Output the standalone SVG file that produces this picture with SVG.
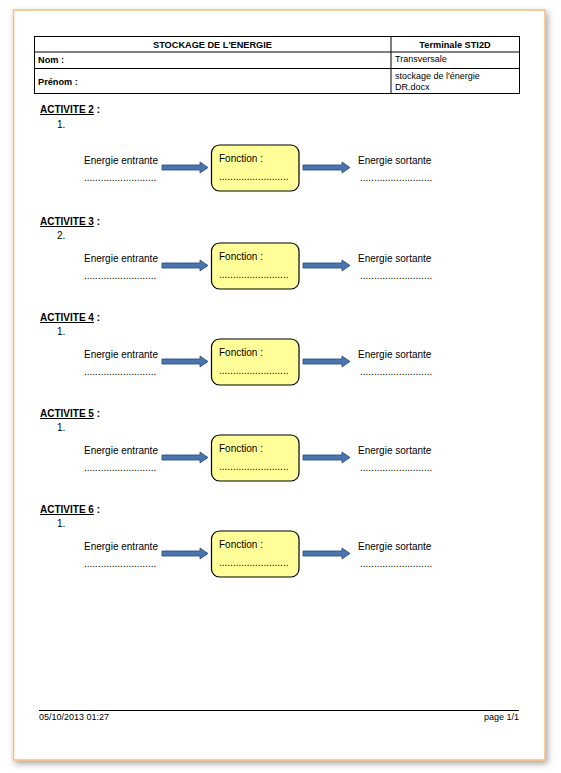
<svg xmlns="http://www.w3.org/2000/svg" width="561" height="773" viewBox="0 0 561 773">
<defs>
<filter id="shadow" x="-5%" y="-5%" width="112%" height="112%">
<feDropShadow dx="2" dy="3" stdDeviation="3" flood-color="#000" flood-opacity="0.35"/>
</filter>
<style>
text{font-family:"Liberation Sans",Arial,sans-serif;fill:#000}
.t{font-size:9px}
.tb{font-size:9.2px;font-weight:bold}
.h{font-size:10px;font-weight:bold}
.b{font-size:10px}
.box{fill:#ffff99;stroke:#000;stroke-width:1.2}
.arr{fill:#4a74ad;stroke:#2f5384;stroke-width:0.9}
.grid{fill:none;stroke:#000;stroke-width:1}
</style>
</defs>
<rect width="561" height="773" fill="#ffffff"/>
<rect x="13.5" y="10" width="531.5" height="750" fill="#ffffff" stroke="#f7bd78" stroke-width="1.5" filter="url(#shadow)"/>

<g id="header-table">
<rect class="grid" x="34.5" y="36.5" width="485" height="57"/>
<line class="grid" x1="34.5" y1="52" x2="519.5" y2="52"/>
<line class="grid" x1="34.5" y1="68.5" x2="519.5" y2="68.5"/>
<line class="grid" x1="391" y1="36.5" x2="391" y2="93.5"/>
<text class="tb" x="212.5" y="47.5" text-anchor="middle">STOCKAGE DE L'ENERGIE</text>
<text class="tb" x="455" y="47.5" text-anchor="middle">Terminale STI2D</text>
<text class="tb" x="38" y="63">Nom :</text>
<text class="t" x="395" y="61.5">Transversale</text>
<text class="tb" x="38" y="84.5">Prénom :</text>
<text class="t" x="395" y="79">stockage de l'énergie</text>
<text class="t" x="395" y="89.5">DR.docx</text>
</g>

<g id="activite2">
<text class="h" x="40" y="113"><tspan text-decoration="underline">ACTIVITE 2</tspan> :</text>
<text class="b" x="57" y="128">1.</text>
<text class="b" x="84" y="164">Energie entrante</text>
<text class="b" x="84" y="181">..........................</text>
<rect class="box" x="211.5" y="145" width="87.5" height="46" rx="8"/>
<text class="b" x="219" y="162">Fonction :</text>
<text class="b" x="219" y="180">.........................</text>
<text class="b" x="358" y="164">Energie sortante</text>
<text class="b" x="360" y="181">..........................</text>
</g>

<g id="activite3">
<text class="h" x="40" y="225"><tspan text-decoration="underline">ACTIVITE 3</tspan> :</text>
<text class="b" x="57" y="239">2.</text>
<text class="b" x="84" y="262">Energie entrante</text>
<text class="b" x="84" y="279">..........................</text>
<rect class="box" x="211.5" y="243" width="87.5" height="46" rx="8"/>
<text class="b" x="219" y="260">Fonction :</text>
<text class="b" x="219" y="278">.........................</text>
<text class="b" x="358" y="262">Energie sortante</text>
<text class="b" x="360" y="279">..........................</text>
</g>

<g id="activite4">
<text class="h" x="40" y="321"><tspan text-decoration="underline">ACTIVITE 4</tspan> :</text>
<text class="b" x="57" y="335">1.</text>
<text class="b" x="84" y="358">Energie entrante</text>
<text class="b" x="84" y="375">..........................</text>
<rect class="box" x="211.5" y="339" width="87.5" height="46" rx="8"/>
<text class="b" x="219" y="356">Fonction :</text>
<text class="b" x="219" y="374">.........................</text>
<text class="b" x="358" y="358">Energie sortante</text>
<text class="b" x="360" y="375">..........................</text>
</g>

<g id="activite5">
<text class="h" x="40" y="417"><tspan text-decoration="underline">ACTIVITE 5</tspan> :</text>
<text class="b" x="57" y="431">1.</text>
<text class="b" x="84" y="454">Energie entrante</text>
<text class="b" x="84" y="471">..........................</text>
<rect class="box" x="211.5" y="435" width="87.5" height="46" rx="8"/>
<text class="b" x="219" y="452">Fonction :</text>
<text class="b" x="219" y="470">.........................</text>
<text class="b" x="358" y="454">Energie sortante</text>
<text class="b" x="360" y="471">..........................</text>
</g>

<g id="activite6">
<text class="h" x="40" y="513"><tspan text-decoration="underline">ACTIVITE 6</tspan> :</text>
<text class="b" x="57" y="527">1.</text>
<text class="b" x="84" y="550">Energie entrante</text>
<text class="b" x="84" y="567">..........................</text>
<rect class="box" x="211.5" y="531" width="87.5" height="46" rx="8"/>
<text class="b" x="219" y="548">Fonction :</text>
<text class="b" x="219" y="566">.........................</text>
<text class="b" x="358" y="550">Energie sortante</text>
<text class="b" x="360" y="567">..........................</text>
</g>

<g id="connectors">
<polygon class="arr" points="162,165 200,165 200,162 208,167.5 200,173 200,170 162,170"/>
<polygon class="arr" points="303,165 342,165 342,162 350,167.5 342,173 342,170 303,170"/>
<polygon class="arr" points="162,263 200,263 200,260 208,265.5 200,271 200,268 162,268"/>
<polygon class="arr" points="303,263 342,263 342,260 350,265.5 342,271 342,268 303,268"/>
<polygon class="arr" points="162,359 200,359 200,356 208,361.5 200,367 200,364 162,364"/>
<polygon class="arr" points="303,359 342,359 342,356 350,361.5 342,367 342,364 303,364"/>
<polygon class="arr" points="162,455 200,455 200,452 208,457.5 200,463 200,460 162,460"/>
<polygon class="arr" points="303,455 342,455 342,452 350,457.5 342,463 342,460 303,460"/>
<polygon class="arr" points="162,551 200,551 200,548 208,553.5 200,559 200,556 162,556"/>
<polygon class="arr" points="303,551 342,551 342,548 350,553.5 342,559 342,556 303,556"/>
</g>

<g id="footer">
<line x1="39" y1="710.5" x2="519" y2="710.5" stroke="#000" stroke-width="1"/>
<text class="t" x="39" y="719.5">05/10/2013 01:27</text>
<text class="t" x="519" y="719.5" text-anchor="end">page 1/1</text>
</g>
</svg>
